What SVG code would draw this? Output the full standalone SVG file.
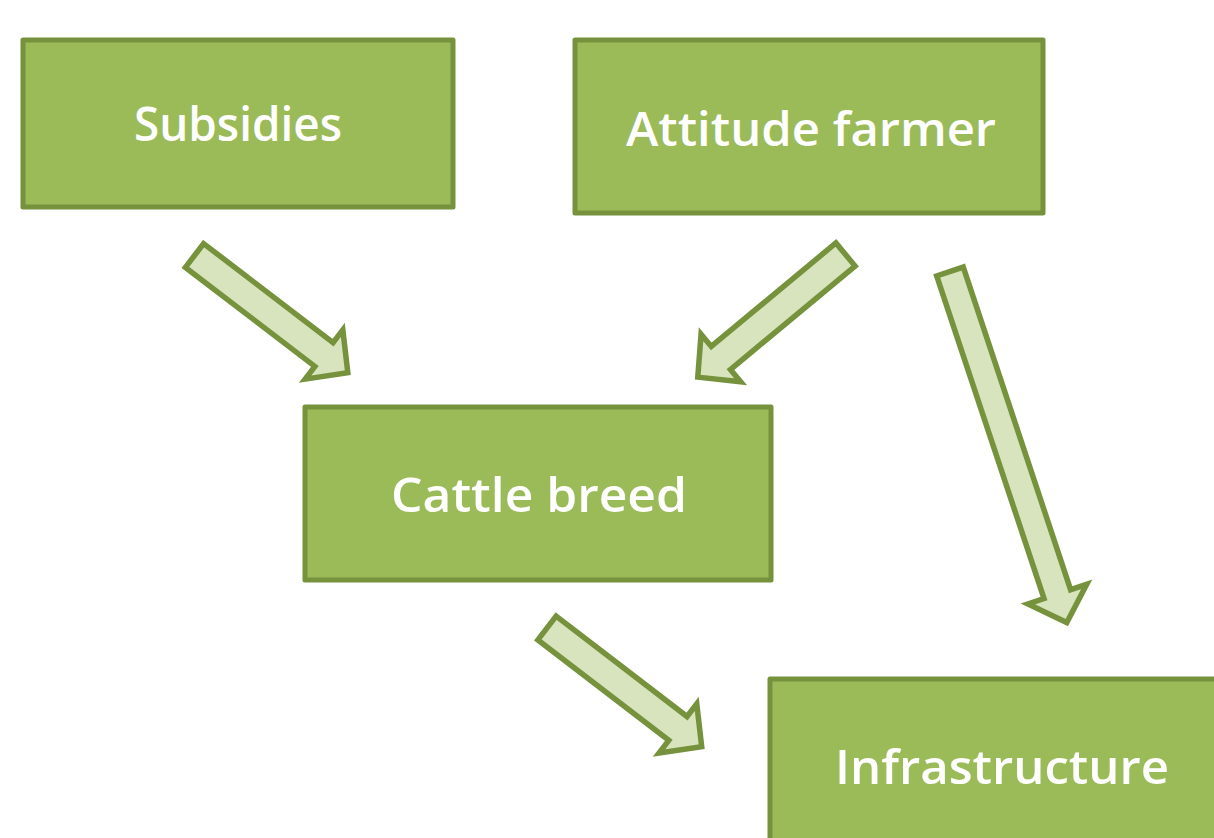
<svg xmlns="http://www.w3.org/2000/svg" width="1214" height="838" viewBox="0 0 1214 838">
<style>
.box{fill:#9bbb59;stroke:#76923c;stroke-width:5;stroke-linejoin:round}
.lbl{font-family:"Open Sans","Noto Sans",sans-serif;font-size:47px;font-weight:600;fill:#ffffff;text-anchor:middle}
.arr{fill:#d7e4bd;stroke:#76923c;stroke-width:5.5;stroke-linejoin:miter}
</style>
<rect width="1214" height="838" fill="#ffffff"/>
<g id="connectors">
<path class="arr" transform="translate(194.5,255.5) rotate(37.4)" d="M0,-15 L163,-15 L163,-31 L193,0 L163,31 L163,15 L0,15 Z"/>
<path class="arr" transform="translate(845.5,254.5) rotate(140.3)" d="M0,-15 L162,-15 L162,-31 L192,0 L162,31 L162,15 L0,15 Z"/>
<path class="arr" transform="translate(950,271.5) rotate(71.6)" d="M0,-14 L340,-14 L340,-31 L370,0 L340,31 L340,14 L0,14 Z"/>
<path class="arr" transform="translate(547,628) rotate(37.5)" d="M0,-15 L165,-15 L165,-31 L195,0 L165,31 L165,15 L0,15 Z"/>
</g>
<g id="subsidies">
<rect class="box" x="23" y="40" width="430" height="167"/>
<text class="lbl" x="238" y="141" textLength="208" lengthAdjust="spacingAndGlyphs">Subsidies</text>
</g>
<g id="attitude-farmer">
<rect class="box" x="575" y="40" width="468" height="173"/>
<text class="lbl" x="811" y="146" textLength="370" lengthAdjust="spacingAndGlyphs">Attitude farmer</text>
</g>
<g id="cattle-breed">
<rect class="box" x="305" y="407" width="466" height="173"/>
<text class="lbl" x="539" y="512" textLength="296" lengthAdjust="spacingAndGlyphs">Cattle breed</text>
</g>
<g id="infrastructure">
<rect class="box" x="770" y="679" width="460" height="175"/>
<text class="lbl" x="1002" y="784" textLength="334" lengthAdjust="spacingAndGlyphs">Infrastructure</text>
</g>
</svg>
